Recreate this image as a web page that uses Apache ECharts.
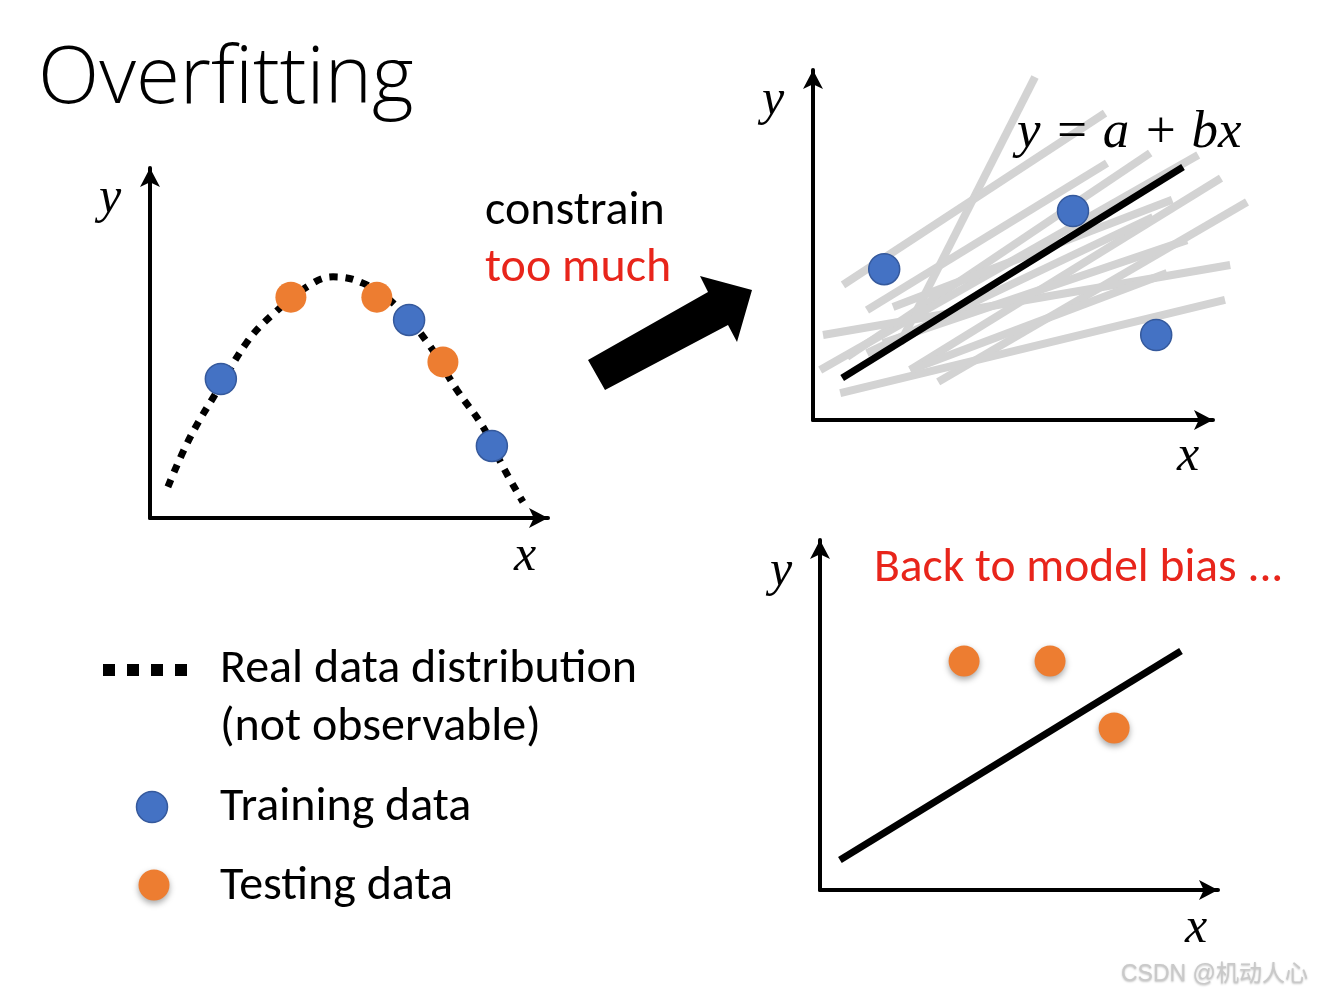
<!DOCTYPE html>
<html>
<head>
<meta charset="utf-8">
<script src="https://cdn.jsdelivr.net/npm/echarts@6/dist/echarts.min.js"></script>
<style>
html,body{margin:0;padding:0;background:#fff;}
#chart{width:1322px;height:997px;}
</style>
</head>
<body>
<div id="chart"></div>
<script>
// ---- data (axis units 0..10 in each panel) ----
const realCurve = [[0.45,0.89],[1.01,2.31],[1.78,3.80],[2.44,5.03],[3.07,5.80],[4.02,6.66],[4.60,6.89],[5.35,6.71],[6.11,6.14],[6.96,5.03],[7.71,3.66],[8.37,2.60],[8.87,1.46],[9.37,0.46]];
const trainingLeft = [[1.78,3.97],[6.51,5.66],[8.59,2.06]];
const testingLeft = [[3.54,6.31],[5.70,6.31],[7.36,4.46]];
const trainingRight = [[1.78,4.31],[6.50,5.97],[8.58,2.43]];
const fitTop = [[0.73,1.20],[9.25,7.23]];
const candidateLines = [
  [2.18,2.20,5.55,9.80],
  [0.75,3.86,7.30,8.77],
  [1.35,3.14,7.35,7.34],
  [0.85,1.80,8.43,7.63],
  [0.18,1.43,9.63,7.57],
  [2.43,1.43,10.20,6.91],
  [3.13,1.09,10.85,6.23],
  [0.25,2.43,10.43,4.43],
  [0.68,0.77,10.30,3.43],
  [1.75,2.20,9.35,5.14],
  [2.00,3.23,8.98,6.29],
  [1.35,1.91,8.50,5.80],
  [2.43,1.43,8.85,4.20]
];
const testingBottom = [[3.62,6.54],[5.78,6.54],[7.39,4.63]];
const fitBottom = [[0.50,0.86],[9.07,6.83]];
const labels = {
  title: 'Overfitting',
  constrain: 'constrain',
  tooMuch: 'too much',
  equation: 'y = a + bx',
  bias: 'Back to model bias ...',
  legendReal: 'Real data distribution',
  legendReal2: '(not observable)',
  legendTrain: 'Training data',
  legendTest: 'Testing data',
  watermark: 'CSDN @机动人心'
};

const BLUE = '#4472c4', BLUE_B = '#35599c', ORANGE = '#ed7d31', RED = '#e8251b', GREY = '#d3d3d3';
const SANS = 'Carlito, Lato, "Open Sans", sans-serif';
const MATH = '"Liberation Serif", "DejaVu Serif", serif';

function axis(gridIndex){
  return {
    type:'value', gridIndex, min:0, max:10,
    axisLine:{show:true, onZero:false, symbol:['none','arrow'], symbolSize:[15,19], lineStyle:{color:'#000', width:4}},
    axisTick:{show:false}, axisLabel:{show:false}, splitLine:{show:false}
  };
}
const blueItem = {color:BLUE, borderColor:BLUE_B, borderWidth:1.5, opacity:1};
const orangeItem = {color:ORANGE, opacity:1, shadowBlur:6, shadowOffsetY:3, shadowColor:'rgba(0,0,0,0.35)'};

const chart = echarts.init(document.getElementById('chart'));
function txt(text, x, y, size, color, font, opts){
  return Object.assign({type:'text', z:10, style:Object.assign({text, x, y, fill:color||'#000', font:(opts&&opts.italic?'italic ':'')+((opts&&opts.weight)||'normal')+' '+size+'px '+(font||SANS), textAlign:'left', textVerticalAlign:'middle'}, (opts&&opts.style)||{})});
}
const graphics = [
  txt(labels.title, 38, 80, 80, '#000', '"Open Sans", Lato, sans-serif', {weight:300}),
  txt(labels.constrain, 485, 212, 48, '#000'),
  txt(labels.tooMuch, 485, 269, 48, RED),
  txt(labels.bias, 874, 569, 47.5, RED),
  txt(labels.equation, 1017, 133, 53, '#000', MATH, {italic:true}),
  txt(labels.legendReal, 220, 670, 48, '#000'),
  txt(labels.legendReal2, 220, 728, 48, '#000'),
  txt(labels.legendTrain, 220, 808, 48, '#000'),
  txt(labels.legendTest, 220, 887, 48, '#000'),
  // axis letters
  txt('y', 110, 199, 50, '#000', MATH, {italic:true, style:{textAlign:'center'}}),
  txt('x', 525, 557, 50, '#000', MATH, {italic:true, style:{textAlign:'center'}}),
  txt('y', 773, 101, 50, '#000', MATH, {italic:true, style:{textAlign:'center'}}),
  txt('x', 1188, 457, 50, '#000', MATH, {italic:true, style:{textAlign:'center'}}),
  txt('y', 781, 572, 50, '#000', MATH, {italic:true, style:{textAlign:'center'}}),
  txt('x', 1196, 929, 50, '#000', MATH, {italic:true, style:{textAlign:'center'}}),
  // watermark
  txt(labels.watermark, 1121, 975, 23, '#c9c9c9', '"Liberation Sans", "Noto Sans CJK SC", sans-serif', {style:{textShadowColor:'rgba(0,0,0,0.25)', textShadowBlur:2, textShadowOffsetY:1}}),
  // big arrow
  {type:'polygon', z:5, shape:{points:[[588,360],[708,292],[700,276],[752,290],[737,342],[728,325],[605,390]]}, style:{fill:'#000'}},
  // legend markers
  {type:'rect', shape:{x:103,y:664,width:12,height:12}, style:{fill:'#000'}},
  {type:'rect', shape:{x:127,y:664,width:12,height:12}, style:{fill:'#000'}},
  {type:'rect', shape:{x:151,y:664,width:12,height:12}, style:{fill:'#000'}},
  {type:'rect', shape:{x:175,y:664,width:12,height:12}, style:{fill:'#000'}},
  {type:'circle', shape:{cx:152, cy:807, r:15.5}, style:{fill:BLUE, stroke:BLUE_B, lineWidth:1.5}},
  {type:'circle', shape:{cx:154, cy:885, r:15.5}, style:{fill:ORANGE, shadowBlur:6, shadowOffsetY:3, shadowColor:'rgba(0,0,0,0.35)'}}
];

const series = [
  {type:'line', xAxisIndex:0, yAxisIndex:0, data:realCurve, smooth:0.4, showSymbol:false, symbol:'none', z:2,
   lineStyle:{color:'#000', width:7, type:[8,8], cap:'butt'}},
  {type:'scatter', xAxisIndex:0, yAxisIndex:0, data:testingLeft, symbolSize:31, itemStyle:{color:ORANGE, opacity:1}, z:4},
  {type:'scatter', xAxisIndex:0, yAxisIndex:0, data:trainingLeft, symbolSize:31, itemStyle:blueItem, z:4},
  {type:'lines', coordinateSystem:'cartesian2d', xAxisIndex:1, yAxisIndex:1, clip:false, z:1,
   data:candidateLines.map(l=>({coords:[[l[0],l[1]],[l[2],l[3]]]})), lineStyle:{color:GREY, width:8, opacity:1, cap:'butt'}},
  {type:'line', xAxisIndex:1, yAxisIndex:1, data:fitTop, showSymbol:false, symbol:'none', z:3, lineStyle:{color:'#000', width:7}},
  {type:'scatter', xAxisIndex:1, yAxisIndex:1, data:trainingRight, symbolSize:31, itemStyle:blueItem, z:4},
  {type:'line', xAxisIndex:2, yAxisIndex:2, data:fitBottom, showSymbol:false, symbol:'none', z:3, lineStyle:{color:'#000', width:7}},
  {type:'scatter', xAxisIndex:2, yAxisIndex:2, data:testingBottom, symbolSize:31, itemStyle:orangeItem, z:4}
];

chart.setOption({
  backgroundColor:'#fff',
  animation:false,
  grid:[
    {left:150, top:168, width:398, height:350},
    {left:813, top:70, width:400, height:350},
    {left:820, top:540, width:398, height:350}
  ],
  xAxis:[axis(0), axis(1), axis(2)],
  yAxis:[axis(0), axis(1), axis(2)],
  series,
  graphic:graphics
});
</script>
</body>
</html>
